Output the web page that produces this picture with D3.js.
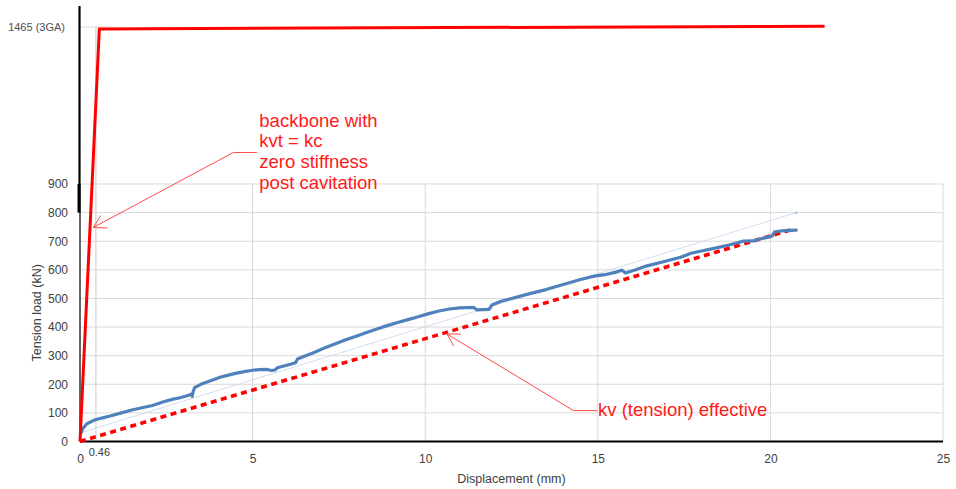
<!DOCTYPE html>
<html><head><meta charset="utf-8">
<script src="https://cdn.jsdelivr.net/npm/d3@7"></script>
<style>
html,body{margin:0;padding:0;background:#fff;}
svg{display:block;font-family:"Liberation Sans",Arial,sans-serif;}
</style>
</head><body>
<svg id="chart" width="956" height="489"></svg>
<script>
// ---------- data ----------
const xTickValues = [0, 0.46, 5, 10, 15, 20, 25];
const xTickLabels = ["0", "0.46", "5", "10", "15", "20", "25"];
const yTickValues = [0, 100, 200, 300, 400, 500, 600, 700, 800, 900];
const yUpperTick = 1465;
const yUpperLabel = "1465 (3GA)";
const xTitle = "Displacement (mm)";
const yTitle = "Tension load (kN)";

// backbone with kvt = kc, zero stiffness post cavitation
const backboneX = [0, 0.56, 21.57];
const backboneY = [0, 1458, 1468];

// kv (tension) effective
const effectiveX = [0, 20.65];
const effectiveY = [0, 742];

// secant (thin) line
const secantX = [0, 20.75];
const secantY = [30, 800];

// measured test curve
const testX = [0.03,0.08,0.2,0.4,0.6,0.9,1.2,1.5,1.8,2.1,2.4,2.7,2.9,3.1,3.22,3.25,3.28,3.32,3.5,3.8,4.1,4.5,4.8,5.0,5.2,5.4,5.55,5.65,5.72,5.9,6.1,6.25,6.3,6.5,6.8,7.1,7.4,7.7,8.0,8.3,8.6,8.9,9.2,9.5,9.8,10.1,10.4,10.7,11.0,11.4,11.5,11.85,11.93,12.2,12.5,13.0,13.5,14.0,14.5,14.9,15.2,15.5,15.7,15.8,16.1,16.4,16.9,17.4,17.7,18.0,18.4,18.8,19.2,19.5,19.8,20.05,20.12,20.4,20.75];
const testY = [30,45,62,74,81,90,100,110,118,126,138,148,153,160,165,158,175,188,200,213,226,238,245,249,251,252,248,250,258,264,270,276,288,298,312,328,342,356,368,381,393,405,416,426,436,447,456,463,467,469,460,462,477,490,500,516,531,549,566,578,583,591,599,589,600,613,628,644,658,666,676,687,700,701,711,718,733,737,739];

const annoBackbone = ["backbone with", "kvt = kc", "zero stiffness", "post cavitation"];
const annoBackboneTip = [0.386, 748];
const annoEffective = ["kv (tension) effective"];
const annoEffectiveTip = [10.63, 376];

// ---------- scales ----------
const svg = d3.select("#chart");
const left = 80, right = 943;
const x = d3.scaleLinear().domain([0, 25]).range([left, right]);
// broken axis: lower 0-900 region, compressed upper region up to 1465
const y = d3.scaleLinear().domain([0, 900, 1465, 1540]).range([441.5, 184, 27, 6]);

const zip = (a, b) => a.map((v, i) => [v, b[i]]);
const line = d3.line().x(d => x(d[0])).y(d => y(d[1]));

const gridColor = "#d9d9d9";
const g = svg.append("g");

// ---------- grid ----------
g.selectAll(".hgrid").data(yTickValues).join("line")
  .attr("x1", x(0)).attr("x2", x(25))
  .attr("y1", d => y(d)).attr("y2", d => y(d))
  .attr("stroke", gridColor).attr("stroke-width", 1);
g.append("line")
  .attr("x1", x(0)).attr("x2", x(0.95))
  .attr("y1", y(yUpperTick)).attr("y2", y(yUpperTick))
  .attr("stroke", gridColor).attr("stroke-width", 1.2);
g.selectAll(".vgrid").data(xTickValues.filter(v => v > 0)).join("line")
  .attr("x1", d => x(d)).attr("x2", d => x(d))
  .attr("y1", d => d === 0.46 ? y(yUpperTick) : y(900)).attr("y2", y(0))
  .attr("stroke", gridColor).attr("stroke-width", d => d === 0.46 ? 1.4 : 1);

// ---------- axis lines ----------
g.append("line").attr("x1", x(0) - 0.5).attr("x2", x(0) - 0.5)
  .attr("y1", y(1540)).attr("y2", y(800)).attr("stroke", "#000").attr("stroke-width", 2.2);
g.append("line").attr("x1", x(0) - 1).attr("x2", x(0) - 1)
  .attr("y1", y(900)).attr("y2", y(800)).attr("stroke", "#000").attr("stroke-width", 3);
g.append("line").attr("x1", x(0)).attr("x2", x(0))
  .attr("y1", y(800)).attr("y2", y(0)).attr("stroke", "#111").attr("stroke-width", 1.3);
g.append("line").attr("x1", x(0)).attr("x2", x(25))
  .attr("y1", y(0)).attr("y2", y(0)).attr("stroke", "#000").attr("stroke-width", 2.2);

// ---------- series ----------
g.append("path").attr("d", line(zip(effectiveX, effectiveY)))
  .attr("fill", "none").attr("stroke", "#ff0000").attr("stroke-width", 3.6)
  .attr("stroke-dasharray", "6,4.5");
g.append("path").attr("d", line(zip(secantX, secantY)))
  .attr("fill", "none").attr("stroke", "#c3d6ee").attr("stroke-width", 0.8);
g.append("circle").attr("cx", x(secantX[1])).attr("cy", y(secantY[1])).attr("r", 1.2)
  .attr("fill", "#8fb0da");
g.append("path").attr("d", line(zip(testX, testY)))
  .attr("fill", "none").attr("stroke", "#4f81bd").attr("stroke-width", 3.2)
  .attr("stroke-linejoin", "round").attr("stroke-linecap", "round");
g.append("path").attr("d", line(zip(backboneX, backboneY)))
  .attr("fill", "none").attr("stroke", "#ff0000").attr("stroke-width", 3)
  .attr("stroke-linejoin", "miter");

// ---------- axes ----------
const xAxis = d3.axisBottom(x).tickValues(xTickValues).tickSize(0).tickPadding(13)
  .tickFormat((d, i) => xTickLabels[i]);
const xa = svg.append("g").attr("transform", `translate(0,${y(0)})`).call(xAxis);
xa.select(".domain").remove();
xa.selectAll("text").attr("fill", "#404040").style("font-size", "12px")
  .style("font-family", "'Liberation Sans',Arial,sans-serif");
xa.selectAll(".tick").filter(d => d === 0.46).select("text")
  .style("font-size", "11px").attr("dx", 3).attr("y", 7);

const yAxis = d3.axisLeft(y).tickValues(yTickValues.concat([yUpperTick])).tickSize(0).tickPadding(12)
  .tickFormat(d => d === yUpperTick ? yUpperLabel : String(d));
const ya = svg.append("g").attr("transform", `translate(${x(0)},0)`).call(yAxis);
ya.select(".domain").remove();
ya.selectAll("text").attr("fill", "#404040").style("font-size", "12px")
  .style("font-family", "'Liberation Sans',Arial,sans-serif");
ya.selectAll(".tick").filter(d => d === yUpperTick).select("text")
  .style("font-size", "11px").attr("fill", "#505050").attr("dx", -3);

svg.append("text").attr("x", (x(0) + x(25)) / 2).attr("y", 482.5)
  .attr("text-anchor", "middle").attr("fill", "#404040").style("font-size", "12.5px")
  .text(xTitle);
svg.append("text").attr("transform", `translate(37,${(y(0) + y(900)) / 2}) rotate(-90)`)
  .attr("text-anchor", "middle").attr("dy", "0.35em").attr("fill", "#404040")
  .style("font-size", "12.5px").text(yTitle);

// ---------- annotations ----------
const annoColor = "#ff4a4a";
function arrowHead(tip, toward) {
  const ang = Math.atan2(toward[1] - tip[1], toward[0] - tip[0]);
  const L = 14, a = Math.PI / 6;
  const p1 = [tip[0] + L * Math.cos(ang - a), tip[1] + L * Math.sin(ang - a)];
  const p2 = [tip[0] + L * Math.cos(ang + a), tip[1] + L * Math.sin(ang + a)];
  return `M${p1[0]},${p1[1]}L${tip[0]},${tip[1]}L${p2[0]},${p2[1]}`;
}
function annotate(lines, tipData, elbowOff, hLen, textOff, lineH) {
  const tip = [x(tipData[0]), y(tipData[1])];
  const elbow = [tip[0] + elbowOff[0], tip[1] + elbowOff[1]];
  const end = [elbow[0] + hLen, elbow[1]];
  svg.append("path").attr("d", `M${tip[0]},${tip[1]}L${elbow[0]},${elbow[1]}L${end[0]},${end[1]}`)
    .attr("fill", "none").attr("stroke", annoColor).attr("stroke-width", 1);
  svg.append("path").attr("d", arrowHead(tip, elbow))
    .attr("fill", "none").attr("stroke", annoColor).attr("stroke-width", 1);
  const t = svg.append("text").attr("fill", "#ff1a1a").style("font-size", "18.5px")
    .style("font-family", "'Liberation Sans',Arial,sans-serif");
  lines.forEach((s, i) => {
    t.append("tspan").attr("x", end[0] + textOff[0]).attr("y", end[1] + textOff[1] + i * lineH).text(s);
  });
}
annotate(annoBackbone, annoBackboneTip, [140, -75], 23.5, [2.5, -25.6], 20.6);
annotate(annoEffective, annoEffectiveTip, [126.6, 76.7], 23.5, [1, 5.5], 20.6);
</script>
</body></html>
